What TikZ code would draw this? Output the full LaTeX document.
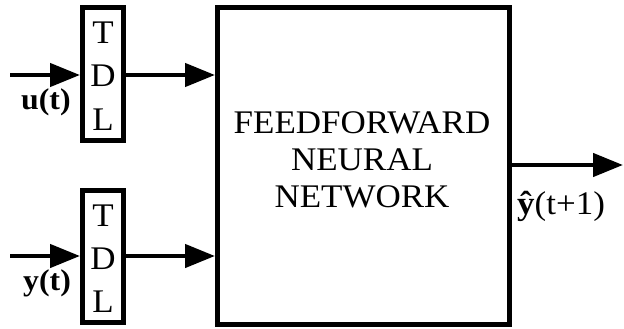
\documentclass[tikz,border=0pt]{standalone}
\usepackage{fontspec}
\setmainfont[FakeStretch=1.06]{Liberation Serif}
\usetikzlibrary{arrows.meta}
\begin{document}
\begin{tikzpicture}[x=1pt,y=-1pt,
  blk/.style={draw, line width=5pt, inner sep=0pt},
  arr/.style={line width=4.5pt, -{Triangle[length=30pt,width=23pt]}},
  lbl/.style={font=\fontsize{33}{33}\selectfont, inner sep=0pt, anchor=base},
  sig/.style={font=\fontsize{30}{30}\selectfont, inner sep=0pt, anchor=base west}]
\useasboundingbox (0,0) rectangle (624,329);
% blocks
\node[blk, minimum width=40.5pt, minimum height=133pt] (tdlu) at (102.75,74) {};
\node[blk, minimum width=40.5pt, minimum height=132pt] (tdly) at (102.75,256.5) {};
\node[blk, minimum width=291.5pt, minimum height=316.5pt] (ffnn) at (363.25,165.75) {};
% TDL letters
\node[lbl] (u1) at (103,44) {T};
\node[lbl] (u2) at (103,87) {D};
\node[lbl] (u3) at (103,130) {L};
\node[lbl] (y1) at (103,226) {T};
\node[lbl] (y2) at (103,269) {D};
\node[lbl] (y3) at (103,312) {L};
% network text
\node[lbl] (n1) at (362,133) {FEEDFORWARD};
\node[lbl] (n2) at (362,170) {NEURAL};
\node[lbl] (n3) at (362,207) {NETWORK};
% signals
\coordinate (uin) at (10,75);
\coordinate (yin) at (10,256);
\coordinate (yout) at (623,165);
\draw[arr] (uin) -- (tdlu.west |- uin);
\draw[arr] (yin) -- (tdly.west |- yin);
\draw[arr] (tdlu.east |- uin) -- (ffnn.west |- uin);
\draw[arr] (tdly.east |- yin) -- (ffnn.west |- yin);
\draw[arr] (ffnn.east |- yout) -- (yout);
\node[sig] (lu) at (21,110) {\textbf{u(t)}};
\node[sig] (ly) at (23,290) {\textbf{y(t)}};
\node[sig, font=\fontsize{33}{33}\selectfont] (lyh) at (517,214) {\textbf{\^{y}}(t+1)};
\end{tikzpicture}
\end{document}
